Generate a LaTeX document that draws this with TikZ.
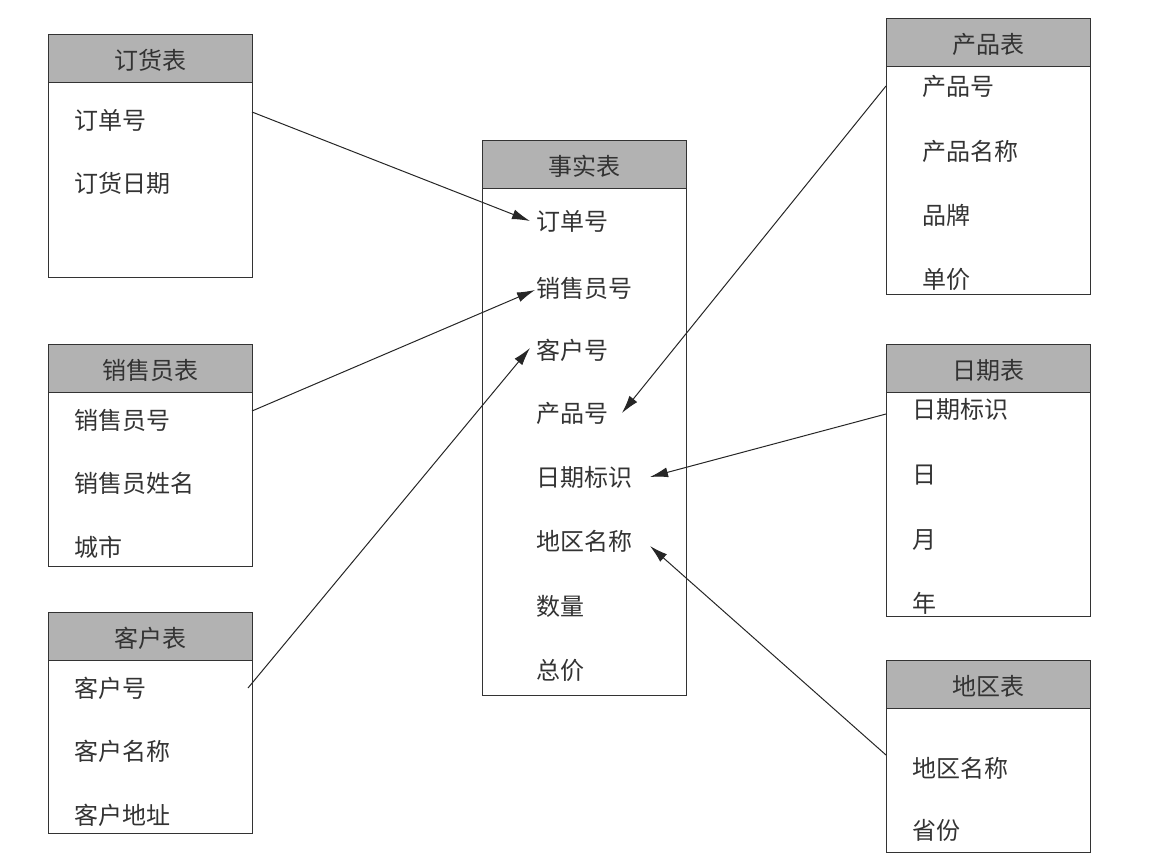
\documentclass[tikz,border=0pt]{standalone}
\usepackage{fontspec}
\setmainfont{Noto Sans CJK SC}[BoldFont={Noto Sans CJK SC}]
\usetikzlibrary{arrows.meta}
\begin{document}
\begin{tikzpicture}[x=1pt,y=-1pt,
 hdr/.style={draw=black!80,fill=black!30,line width=1pt},
 bx/.style={draw=black!80,line width=1pt},
 txt/.style={anchor=west,font=\fontsize{24}{28}\selectfont,inner sep=0,text=black!80},
 htxt/.style={font=\fontsize{24}{28}\selectfont,inner sep=0,text=black!80},
 arr/.style={-{Latex[length=18pt,width=10pt]},line width=1pt,draw=black!85}]
\useasboundingbox (0,0) rectangle (1162,865);
\newcommand\tbl[6]{% name, x1,y1,x2,y2,title
 \draw[bx] (#2,#3) rectangle (#4,#5);
 \draw[hdr] (#2,#3) rectangle (#4,#3+48);
 \node[htxt] (#1) at ({(#2+#4)/2},#3+26) {#6};}
\tbl{t1}{48}{34}{252}{277}{订货表}
\tbl{t2}{48}{344}{252}{566}{销售员表}
\tbl{t3}{48}{612}{252}{833}{客户表}
\tbl{t4}{482}{140}{686}{695}{事实表}
\tbl{t5}{886}{18}{1090}{294}{产品表}
\tbl{t6}{886}{344}{1090}{616}{日期表}
\tbl{t7}{886}{660}{1090}{852}{地区表}
\node[txt] (a1) at (74,120) {订单号};
\node[txt] (a2) at (74,183) {订货日期};
\node[txt] (b1) at (74,420) {销售员号};
\node[txt] (b2) at (74,483) {销售员姓名};
\node[txt] (b3) at (74,547) {城市};
\node[txt] (c1) at (74,688) {客户号};
\node[txt] (c2) at (74,751) {客户名称};
\node[txt] (c3) at (74,815) {客户地址};
\node[txt] (f1) at (536,221) {订单号};
\node[txt] (f2) at (536,288) {销售员号};
\node[txt] (f3) at (536,350) {客户号};
\node[txt] (f4) at (536,413) {产品号};
\node[txt] (f5) at (536,477) {日期标识};
\node[txt] (f6) at (536,541) {地区名称};
\node[txt] (f7) at (536,606) {数量};
\node[txt] (f8) at (536,670) {总价};
\node[txt] (p1) at (922,86) {产品号};
\node[txt] (p2) at (922,151) {产品名称};
\node[txt] (p3) at (922,215) {品牌};
\node[txt] (p4) at (922,279) {单价};
\node[txt] (d1) at (912,409) {日期标识};
\node[txt] (d2) at (912,475) {日};
\node[txt] (d3) at (912,540) {月};
\node[txt] (d4) at (912,603) {年};
\node[txt] (r1) at (912,768) {地区名称};
\node[txt] (r2) at (912,830) {省份};
\coordinate (sa) at (252,112); \coordinate (ea) at (530,221);
\coordinate (sb) at (252,411); \coordinate (eb) at (535,290);
\coordinate (sc) at (248,688); \coordinate (ec) at (530,348);
\coordinate (sp) at (886,86);  \coordinate (ep) at (622,413);
\coordinate (sd) at (886,414); \coordinate (ed) at (650,477);
\coordinate (sr) at (886,755); \coordinate (er) at (650,546);
\draw[arr] (sa) -- (ea);
\draw[arr] (sb) -- (eb);
\draw[arr] (sc) -- (ec);
\draw[arr] (sp) -- (ep);
\draw[arr] (sd) -- (ed);
\draw[arr] (sr) -- (er);
\end{tikzpicture}
\end{document}
